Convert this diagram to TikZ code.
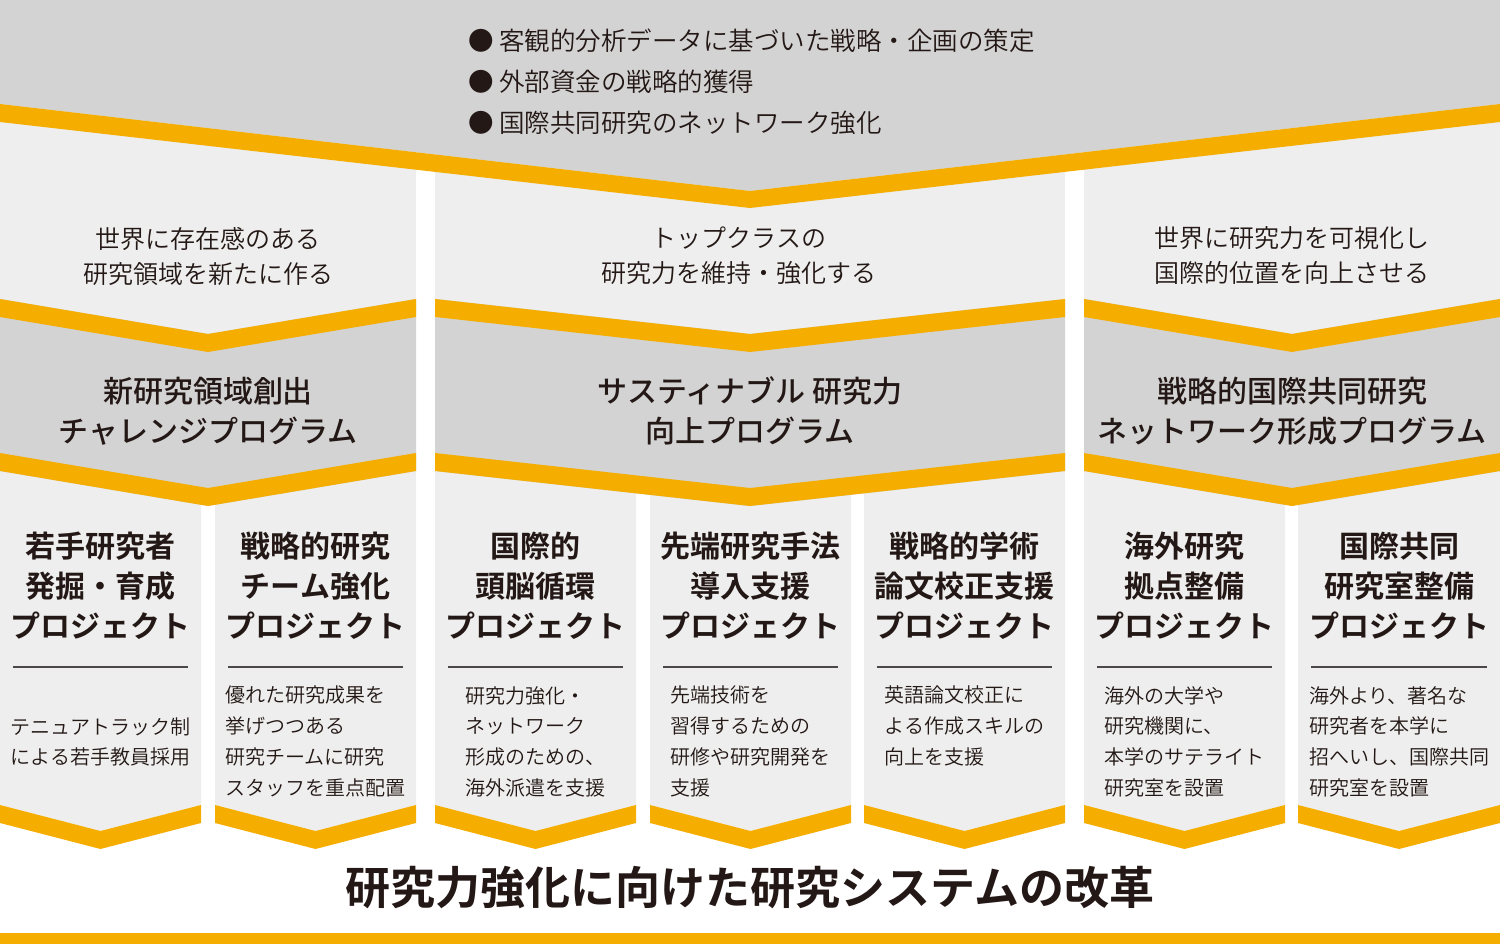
\documentclass[tikz,border=0pt]{standalone}
\usepackage{fontspec}
\IfFontExistsTF{Noto Sans CJK JP DemiLight}
 {\setmainfont{Noto Sans CJK JP DemiLight}[BoldFont={Noto Sans CJK JP Bold}]}
 {\setmainfont{Noto Sans CJK JP}}
\IfFontExistsTF{Noto Sans CJK JP Medium}
 {\newfontfamily\medfont{Noto Sans CJK JP Medium}}
 {\newfontfamily\medfont{Noto Sans CJK JP}}
\usepackage{xcolor}
\usepackage{tikz}
\definecolor{bandgray}{HTML}{D3D3D3}
\definecolor{panelgray}{HTML}{EDEEED}
\definecolor{accent}{HTML}{F5AD00}
\definecolor{ink}{HTML}{231815}
\definecolor{rulegray}{HTML}{4D4848}

\begin{document}
\begin{tikzpicture}[x=1pt,y=-1pt,
 panel/.style={fill=panelgray},
 band/.style={fill=bandgray},
 stripe/.style={fill=accent},
 divider/.style={draw=rulegray,line width=1.4pt},
 goal/.style={font=\fontsize{25.5}{41}\selectfont,align=left,anchor=north west,inner sep=0pt,text=ink},
 aim/.style={font=\fontsize{25}{35}\selectfont,align=center,inner sep=0pt,text=ink},
 prog/.style={font=\medfont\fontsize{30}{40}\selectfont,align=center,inner sep=0pt,text=ink},
 proj/.style={font=\bfseries\fontsize{30}{40}\selectfont,align=center,inner sep=0pt,text=ink},
 desc/.style={font=\fontsize{20}{30.7}\selectfont,align=left,anchor=north,inner sep=0pt,text=ink}]
\useasboundingbox (0,0) rectangle (1500,944);
% three columns
\fill[panel] (0,100) rectangle (416,480);
\fill[panel] (435,100) rectangle (1065,480);
\fill[panel] (1084,100) rectangle (1500,480);
% seven project panels
\fill[panel] (0,480) -- (201,480) -- (201,805) -- (100.5,831) -- (0,805) -- cycle;
\fill[stripe] (0,805) -- (100.5,831) -- (201,805) -- (201,823) -- (100.5,849) -- (0,823) -- cycle;
\fill[panel] (215,480) -- (416,480) -- (416,805) -- (315.5,831) -- (215,805) -- cycle;
\fill[stripe] (215,805) -- (315.5,831) -- (416,805) -- (416,823) -- (315.5,849) -- (215,823) -- cycle;
\fill[panel] (435,480) -- (636,480) -- (636,805) -- (535.5,831) -- (435,805) -- cycle;
\fill[stripe] (435,805) -- (535.5,831) -- (636,805) -- (636,823) -- (535.5,849) -- (435,823) -- cycle;
\fill[panel] (650,480) -- (851,480) -- (851,805) -- (750.5,831) -- (650,805) -- cycle;
\fill[stripe] (650,805) -- (750.5,831) -- (851,805) -- (851,823) -- (750.5,849) -- (650,823) -- cycle;
\fill[panel] (864,480) -- (1065,480) -- (1065,805) -- (964.5,831) -- (864,805) -- cycle;
\fill[stripe] (864,805) -- (964.5,831) -- (1065,805) -- (1065,823) -- (964.5,849) -- (864,823) -- cycle;
\fill[panel] (1084,480) -- (1285,480) -- (1285,805) -- (1184.5,831) -- (1084,805) -- cycle;
\fill[stripe] (1084,805) -- (1184.5,831) -- (1285,805) -- (1285,823) -- (1184.5,849) -- (1084,823) -- cycle;
\fill[panel] (1298,480) -- (1500,480) -- (1500,805) -- (1399,831) -- (1298,805) -- cycle;
\fill[stripe] (1298,805) -- (1399,831) -- (1500,805) -- (1500,823) -- (1399,849) -- (1298,823) -- cycle;
% program bands
\fill[band] (0,299) -- (208,334) -- (416,299) -- (416,471) -- (208,506) -- (0,471) -- cycle;
\fill[stripe] (0,299) -- (208,334) -- (416,299) -- (416,317) -- (208,352) -- (0,317) -- cycle;
\fill[stripe] (0,453) -- (208,488) -- (416,453) -- (416,471) -- (208,506) -- (0,471) -- cycle;
\fill[band] (435,299) -- (750,334) -- (1065,299) -- (1065,471) -- (750,506) -- (435,471) -- cycle;
\fill[stripe] (435,299) -- (750,334) -- (1065,299) -- (1065,317) -- (750,352) -- (435,317) -- cycle;
\fill[stripe] (435,453) -- (750,488) -- (1065,453) -- (1065,471) -- (750,506) -- (435,471) -- cycle;
\fill[band] (1084,299) -- (1292,334) -- (1500,299) -- (1500,471) -- (1292,506) -- (1084,471) -- cycle;
\fill[stripe] (1084,299) -- (1292,334) -- (1500,299) -- (1500,317) -- (1292,352) -- (1084,317) -- cycle;
\fill[stripe] (1084,453) -- (1292,488) -- (1500,453) -- (1500,471) -- (1292,506) -- (1084,471) -- cycle;
% top band and bottom bar
\fill[band] (0,0) -- (1500,0) -- (1500,104) -- (750,191) -- (0,104) -- cycle;
\fill[stripe] (0,104) -- (750,191) -- (1500,104) -- (1500,122) -- (750,208) -- (0,122) -- cycle;
\fill[stripe] (0,933) rectangle (1500,944);
% texts
\node[goal] (goals) at (468,29) {● 客観的分析データに基づいた戦略・企画の策定\\● 外部資金の戦略的獲得\\● 国際共同研究のネットワーク強化};
\node[aim] (aimL) at (208,256) {世界に存在感のある\\研究領域を新たに作る};
\node[aim] (aimC) at (739,256) {トップクラスの\\研究力を維持・強化する};
\node[aim] (aimR) at (1292,256) {世界に研究力を可視化し\\国際的位置を向上させる};
\node[prog] (progL) at (208,411) {新研究領域創出\\チャレンジプログラム};
\node[prog] (progC) at (750,411) {サスティナブル 研究力\\向上プログラム};
\node[prog] (progR) at (1292,411) {戦略的国際共同研究\\ネットワーク形成プログラム};
\node[proj] (projA) at (100.5,586) {若手研究者\\発掘・育成\\プロジェクト};
\node[proj] (projB) at (315.5,586) {戦略的研究\\チーム強化\\プロジェクト};
\node[proj] (projC) at (535.5,586) {国際的\\頭脳循環\\プロジェクト};
\node[proj] (projD) at (750.5,586) {先端研究手法\\導入支援\\プロジェクト};
\node[proj] (projE) at (964.5,586) {戦略的学術\\論文校正支援\\プロジェクト};
\node[proj] (projF) at (1184.5,586) {海外研究\\拠点整備\\プロジェクト};
\node[proj] (projG) at (1399,586) {国際共同\\研究室整備\\プロジェクト};
\draw[divider] (13,667) -- (188,667);
\draw[divider] (228,667) -- (403,667);
\draw[divider] (448,667) -- (623,667);
\draw[divider] (663,667) -- (838,667);
\draw[divider] (877,667) -- (1052,667);
\draw[divider] (1097,667) -- (1272,667);
\draw[divider] (1311,667) -- (1487,667);
\node[desc,anchor=center] (descA) at (100.5,742) {テニュアトラック制\\による若手教員採用};
\node[desc] (descB) at (315.5,686) {優れた研究成果を\\挙げつつある\\研究チームに研究\\スタッフを重点配置};
\node[desc] (descC) at (535.5,686) {研究力強化・\\ネットワーク\\形成のための、\\海外派遣を支援};
\node[desc] (descD) at (750.5,686) {先端技術を\\習得するための\\研修や研究開発を\\支援};
\node[desc] (descE) at (964.5,686) {英語論文校正に\\よる作成スキルの\\向上を支援};
\node[desc] (descF) at (1184.5,686) {海外の大学や\\研究機関に、\\本学のサテライト\\研究室を設置};
\node[desc] (descG) at (1399,686) {海外より、著名な\\研究者を本学に\\招へいし、国際共同\\研究室を設置};
\node[font=\bfseries\fontsize{45}{45}\selectfont,inner sep=0pt,text=ink] (reform) at (750,888) {研究力強化に向けた研究システムの改革};
\end{tikzpicture}
\end{document}
